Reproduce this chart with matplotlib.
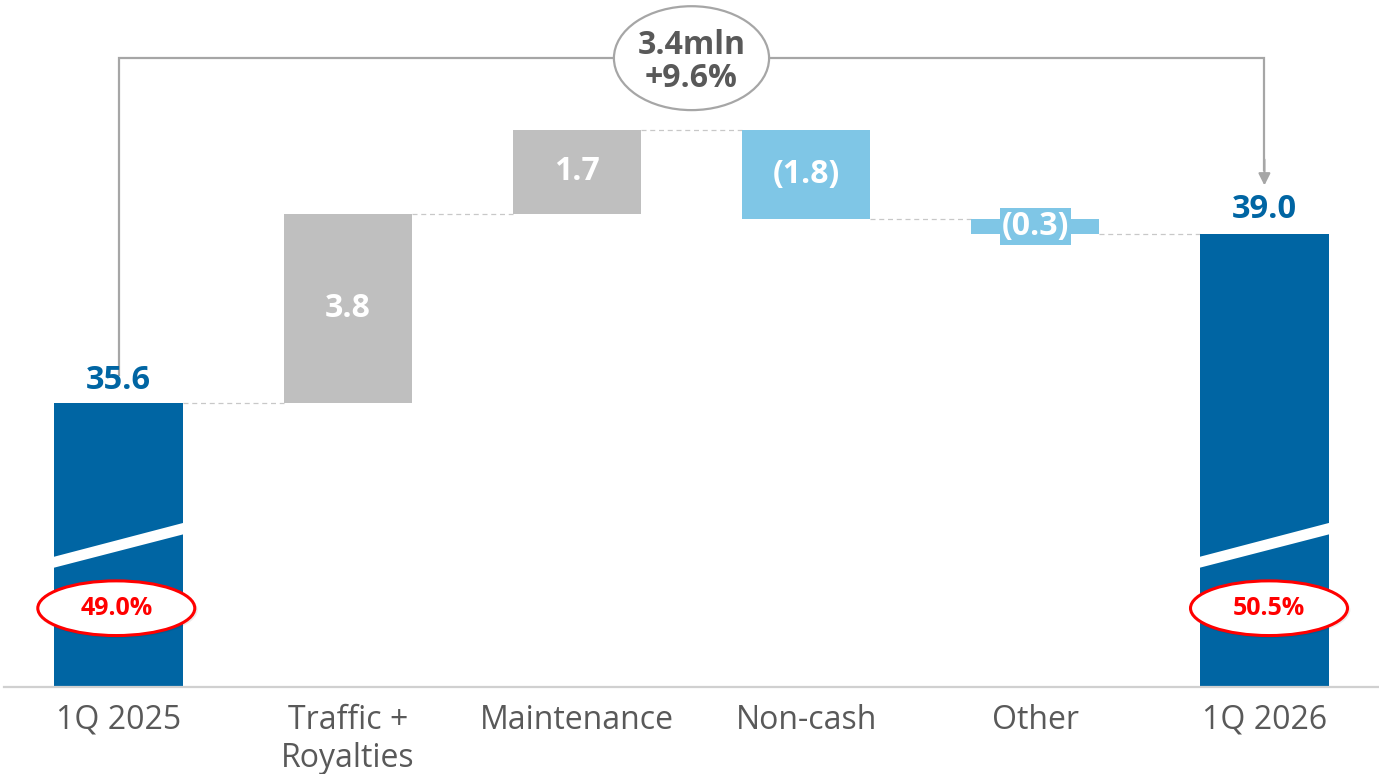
import matplotlib
matplotlib.use("Agg")
import matplotlib.pyplot as plt
from matplotlib.patches import Ellipse, Polygon
import numpy as np

plt.rcParams['font.family'] = ['Open Sans', 'DejaVu Sans']

categories = ["1Q 2025", "Traffic +\nRoyalties", "Maintenance", "Non-cash", "Other", "1Q 2026"]
start_value = 35.6
deltas = [3.8, 1.7, -1.8, -0.3]
end_value = 39.0
margins = ["49.0%", "50.5%"]
total_change_label = "3.4mln\n+9.6%"

DARK = "#0065A3"
GREY = "#BFBFBF"
LIGHT = "#7FC6E6"
TXT = "#595959"

fig = plt.figure(figsize=(13.79, 7.74), dpi=100)
ax = fig.add_axes([4/1379, 87/774, 1375/1379, 687/774])
ymin, ymax = 29.89, 43.71
ax.set_xlim(-0.5, 5.5)
ax.set_ylim(ymin, ymax)
w = 0.56
x = np.arange(len(categories))

# totals
ax.bar(x[0], start_value - ymin, bottom=ymin, width=w, color=DARK, zorder=2)
ax.bar(x[-1], end_value - ymin, bottom=ymin, width=w, color=DARK, zorder=2)

levels = [start_value]
cur = start_value
for i, d in enumerate(deltas):
    bottom = cur if d > 0 else cur + d
    col = GREY if d > 0 else LIGHT
    ax.bar(x[i + 1], abs(d), bottom=bottom, width=w, color=col, zorder=2)
    lab = f"{d:.1f}" if d > 0 else f"({abs(d):.1f})"
    mid = bottom + abs(d) / 2
    if abs(d) < 0.5:
        ax.text(x[i + 1], mid, lab, ha="center", va="center", color="white",
                fontsize=23, fontweight="bold", zorder=4,
                bbox=dict(boxstyle="square,pad=0.06", fc=col, ec="none"))
    else:
        ax.text(x[i + 1], mid, lab, ha="center", va="center", color="white",
                fontsize=23, fontweight="bold", zorder=4)
    cur += d
    levels.append(cur)

# connectors
for i, lv in enumerate(levels):
    ax.plot([x[i] + w/2, x[i + 1] - w/2], [lv, lv], ls=(0, (4, 3)), color="#C8C8C8",
            lw=0.9, zorder=1)

# total labels
ax.text(x[0], start_value + 0.46, f"{start_value:.1f}", ha="center", va="center",
        color=DARK, fontsize=23.5, fontweight="bold")
ax.text(x[-1], end_value + 0.50, f"{end_value:.1f}", ha="center", va="center",
        color=DARK, fontsize=23.5, fontweight="bold")

# axis break
for xi in (x[0], x[-1]):
    xl, xr = xi - w/2 - 0.01, xi + w/2 + 0.01
    poly = Polygon([[xl, 32.50], [xr, 33.20], [xr, 32.97], [xl, 32.28]],
                   closed=True, fc="white", ec="none", zorder=3)
    ax.add_patch(poly)

# margin ellipses
for xi, m in zip((x[0], x[-1]), margins):
    xc = xi - 0.01 if xi == 0 else xi + 0.02
    sh = Ellipse((xc + 0.005, 31.44), 0.70, 1.13, fc="#000000", alpha=0.08, ec="none", zorder=4)
    ax.add_patch(sh)
    e = Ellipse((xc, 31.475), 0.685, 1.10, fc="white", ec="#FF0000", lw=2.2, zorder=5)
    ax.add_patch(e)
    ax.text(xc, 31.475, m, ha="center", va="center", color="#FF0000", fontsize=18,
            fontweight="bold", zorder=6)

# bracket
yb = 42.54
lc = "#A6A6A6"
ax.plot([x[0], x[0], x[-1], x[-1]], [36.16, yb, yb, 40.3], color=lc, lw=1.6,
        zorder=1, solid_joinstyle="miter")
ax.annotate("", xy=(x[-1], 39.98), xytext=(x[-1], 40.5),
            arrowprops=dict(arrowstyle="-|>,head_length=0.7,head_width=0.35",
                            color=lc, lw=1.6, shrinkA=0, shrinkB=0))
e = Ellipse((2.5, yb), 0.677, 2.09, fc="white", ec=lc, lw=1.6, zorder=5)
ax.add_patch(e)
ax.text(2.5, yb - 0.08, total_change_label, ha="center", va="center", color=TXT,
        fontsize=23, fontweight="bold", linespacing=1.0, zorder=6)

# axes styling
for s in ("top", "right", "left"):
    ax.spines[s].set_visible(False)
ax.spines["bottom"].set_color("#D0D0D0")
ax.spines["bottom"].set_linewidth(1.6)
ax.set_yticks([])
ax.set_xticks(x)
ax.set_xticklabels(categories, fontsize=23, color=TXT, linespacing=1.2)
ax.tick_params(axis="x", length=0, pad=12)

fig.savefig("out.png", dpi=100)
